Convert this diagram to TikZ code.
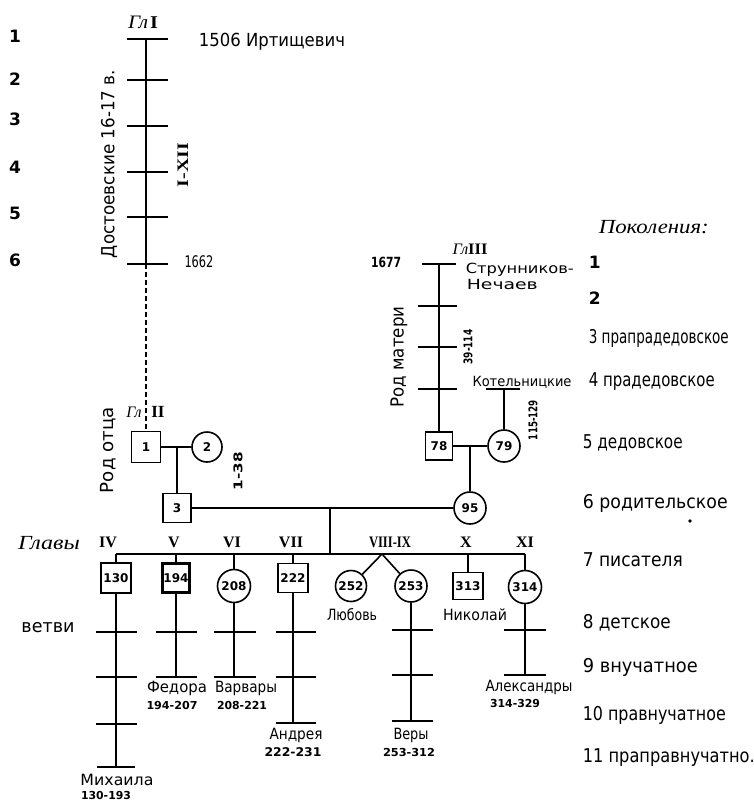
\documentclass[tikz,border=0pt]{standalone}
\usepackage{fontspec}
\setmainfont{DejaVu Sans}
\newfontfamily\serifb{Liberation Serif}
\usepackage{graphicx}
\newcommand\tw[2]{\resizebox{#1pt}{\height}{#2}}
\begin{document}
\begin{tikzpicture}[x=1pt,y=-1pt,line width=1.6pt,
  sq/.style={draw,rectangle,minimum width=29pt,minimum height=29pt,inner sep=0pt,font=\fontsize{12}{12}\selectfont\bfseries},
  ci/.style={draw,circle,minimum size=32pt,inner sep=0pt,font=\fontsize{12}{12}\selectfont\bfseries},
  txt/.style={inner sep=0pt,font=\fontsize{18}{18}\selectfont},
  small/.style={inner sep=0pt,font=\fontsize{14}{14}\selectfont},
  gen/.style={inner sep=0pt,anchor=west,font=\fontsize{19}{19}\selectfont},
  nm/.style={inner sep=0pt,font=\fontsize{15.5}{15.5}\selectfont},
  rng/.style={inner sep=0pt,font=\fontsize{11}{11}\selectfont\bfseries},
  num/.style={inner sep=0pt,font=\fontsize{17}{17}\selectfont\bfseries},
  scr/.style={inner sep=0pt,font=\serifb\itshape\fontsize{20}{20}\selectfont},
  rom/.style={inner sep=0pt,font=\serifb\bfseries\fontsize{16}{16}\selectfont},
  tk/.style={line width=1.8pt},
  dsh/.style={dash pattern=on 5pt off 3pt}]
\useasboundingbox (0,0) rectangle (754,801);

% ---------- left generation numbers
\node[num] (n1) at (15,36) {1};
\node[num] (n2) at (15,79) {2};
\node[num] (n3) at (15,119) {3};
\node[num] (n4) at (15,167) {4};
\node[num] (n5) at (15,213) {5};
\node[num] (n6) at (15,260) {6};

% ---------- line of chapter I
\coordinate (a1) at (146,39);
\coordinate (a6) at (146,264);
\draw (a1) -- (a6);
\foreach \y in {39,80,126,172,217,264} \draw[tk] (127,\y) -- (168,\y);
\node[inner sep=0pt] (gl1) at (143,22) {\tw{30}{{\serifb\itshape\fontsize{19}{19}\selectfont Гл}\,{\serifb\bfseries\fontsize{18}{18}\selectfont I}}};
\node[txt] (irt) at (272,42) {\tw{146}{1506 Иртищевич}};
\node[txt,font=\fontsize{16}{16}\selectfont] (y1662) at (199,262) {\tw{29}{1662}};
\node[txt,rotate=90] (dost) at (109,164) {\tw{188}{Достоевские 16-17 в.}};
\node[rom,rotate=90] (i12) at (183,165) {\tw{44}{I-XII}};

% ---------- father's line
\node[sq,minimum height=31pt] (s1) at (146,447) {1};
\draw[dsh] (a6) -- (s1.north);
\node[ci,minimum size=30pt] (c2) at (207,447) {2};
\draw (s1) -- (c2);
\coordinate (m1) at (177,447);
\node[sq,minimum width=28pt] (s3) at (177,508) {3};
\draw (m1) -- (s3.north);
\node[inner sep=0pt] (gl2a) at (134,412) {\serifb\itshape\fontsize{16}{16}\selectfont Гл};
\node[rom,font=\serifb\bfseries\fontsize{17}{17}\selectfont] (gl2b) at (158,412) {II};
\node[txt,rotate=90] (rodo) at (108,450) {\tw{86}{Род отца}};
\node[rng,rotate=90,font=\fontsize{12}{12}\selectfont\bfseries] (r138) at (238,471) {\tw{38}{1-38}};

% ---------- mother's line
\coordinate (r1) at (439,264);
\node[sq,minimum width=27pt,minimum height=28pt] (s78) at (439,446) {78};
\draw (r1) -- (s78.north);
\draw[tk] (422,264) -- (456,264);
\foreach \y in {306,347,389} \draw[tk] (418,\y) -- (457,\y);
\node[ci] (c79) at (504,446) {79};
\draw (s78) -- (c79);
\coordinate (m2) at (470,446);
\node[ci] (c95) at (470,508) {95};
\draw (m2) -- (c95.north);
\coordinate (k1) at (486,389);
\coordinate (k2) at (520,389);
\coordinate (k) at (504,389);
\draw (k1) -- (k2);
\draw (k) -- (c79.north);
\node[inner sep=0pt] (gl3) at (470,249) {\tw{35}{{\serifb\itshape\fontsize{16}{16}\selectfont Гл}{\serifb\bfseries\fontsize{16}{16}\selectfont III}}};
\node[num,font=\fontsize{14}{14}\selectfont\bfseries] (y1677) at (386,262) {\tw{30}{1677}};
\node[small,anchor=west] (strun) at (465,270) {\tw{108}{Струнников-}};
\node[small,anchor=west] (nech) at (466,284) {\tw{71}{Нечаев}};
\node[txt,rotate=90] (rodm) at (399,357) {\tw{101}{Род матери}};
\node[rng,rotate=90,font=\fontsize{12}{12}\selectfont\bfseries] (r39) at (468,347) {\tw{35}{39-114}};
\node[small] (kotel) at (522,382) {\tw{99}{Котельницкие}};
\node[rng,rotate=90,font=\fontsize{12}{12}\selectfont\bfseries] (r115) at (533,420) {\tw{40}{115-129}};

% ---------- parents and children bar
\draw (s3) -- (c95);
\coordinate (p) at (330,508);
\coordinate (pb) at (330,554);
\draw (p) -- (pb);
\coordinate (bl) at (116,554);
\coordinate (br) at (525,554);
\draw (bl) -- (br);

% ---------- chapter numerals
\node[scr] (glavy) at (49,543) {\tw{62}{Главы}};
\node[rom] (ch4) at (108,542) {IV};
\node[rom] (ch5) at (174,542) {V};
\node[rom] (ch6) at (232,542) {VI};
\node[rom] (ch7) at (291,542) {VII};
\node[rom] (ch89) at (390,542) {\tw{42}{VIII-IX}};
\node[rom] (ch10) at (466,542) {X};
\node[rom] (ch11) at (525,542) {XI};

% ---------- children
\node[sq,minimum width=30pt,minimum height=30pt] (s130) at (116,578) {130};
\draw (bl) -- (s130.north);
\node[sq,minimum width=27pt,minimum height=29pt,line width=3.5pt] (s194) at (176,578) {194};
\coordinate (b194) at (176,554);
\draw (b194) -- (s194.north);
\node[ci,minimum size=33pt] (c208) at (234,586) {208};
\coordinate (b208) at (234,554);
\draw (b208) -- (c208.north);
\node[sq,minimum width=30pt] (s222) at (293,578) {222};
\coordinate (b222) at (293,554);
\draw (b222) -- (s222.north);
\coordinate (f) at (382,554);
\node[ci,minimum size=31pt] (c252) at (351,586) {252};
\node[ci] (c253) at (411,586) {253};
\draw (f) -- (c252);
\draw (f) -- (c253);
\node[sq,minimum width=30pt,minimum height=27pt] (s313) at (468,586) {313};
\coordinate (b313) at (468,554);
\draw (b313) -- (s313.north);
\node[ci,minimum size=33pt] (c314) at (525,587) {314};
\draw (br) -- (c314.north);
\node[nm] (lub) at (352,615) {\tw{50}{Любовь}};
\node[nm] (nik) at (475,615) {\tw{64}{Николай}};
\node[txt] (vetvi) at (48,628) {\tw{53}{ветви}};

% ---------- branches
\coordinate (e130) at (116,767);
\draw (s130.south) -- (e130);
\foreach \y in {632,677,724} \draw[tk] (96,\y) -- (137,\y);
\draw[tk] (97,767) -- (135,767);
\coordinate (e194) at (176,677);
\draw (s194.south) -- (e194);
\foreach \y in {632,677} \draw[tk] (156,\y) -- (197,\y);
\coordinate (e208) at (234,677);
\draw (c208.south) -- (e208);
\foreach \y in {632,677} \draw[tk] (214,\y) -- (256,\y);
\coordinate (e222) at (293,723);
\draw (s222.south) -- (e222);
\foreach \y in {632,677,723} \draw[tk] (276,\y) -- (316,\y);
\coordinate (e253) at (411,721);
\draw (c253.south) -- (e253);
\foreach \y in {630,675,721} \draw[tk] (392,\y) -- (433,\y);
\coordinate (e314) at (525,675);
\draw (c314.south) -- (e314);
\foreach \y in {630,675} \draw[tk] (504,\y) -- (546,\y);

% ---------- branch labels
\node[nm] (mih) at (117,780) {\tw{73}{Михаила}};
\node[rng] (mihr) at (106,795) {\tw{50}{130-193}};
\node[nm] (fed) at (177,688) {\tw{60}{Федора}};
\node[rng] (fedr) at (172,705) {\tw{51}{194-207}};
\node[nm] (var) at (246,688) {\tw{62}{Варвары}};
\node[rng] (varr) at (242,705) {\tw{50}{208-221}};
\node[nm] (and) at (296,735) {\tw{53}{Андрея}};
\node[rng,font=\fontsize{12}{12}\selectfont\bfseries] (andr) at (293,752) {\tw{57}{222-231}};
\node[nm] (ver) at (411,735) {\tw{35}{Веры}};
\node[rng] (verr) at (409,752) {\tw{52}{253-312}};
\node[nm] (ale) at (529,687) {\tw{87}{Александры}};
\node[rng] (aler) at (515,703) {\tw{50}{314-329}};

% ---------- generations list
\node[scr,anchor=west] (pok) at (598,227) {\tw{110}{Поколения:}};
\node[num,anchor=west] (g1) at (588,262) {1};
\node[num,anchor=west] (g2) at (588,298) {2};
\node[gen] (g3) at (588,338) {\tw{140}{3 прапрадедовское}};
\node[gen] (g4) at (588,382) {\tw{126}{4 прадедовское}};
\node[gen] (g5) at (582,443) {\tw{100}{5 дедовское}};
\node[gen] (g6) at (582,503) {\tw{145}{6 родительское}};
\fill (690,521) circle (1.8pt);
\node[gen] (g7) at (582,560) {\tw{100}{7 писателя}};
\node[gen] (g8) at (582,623) {\tw{88}{8 детское}};
\node[gen] (g9) at (582,667) {\tw{115}{9 внучатное}};
\node[gen] (g10) at (582,715) {\tw{143}{10 правнучатное}};
\node[gen] (g11) at (582,758) {\tw{172}{11 праправнучатно.}};
\end{tikzpicture}
\end{document}
